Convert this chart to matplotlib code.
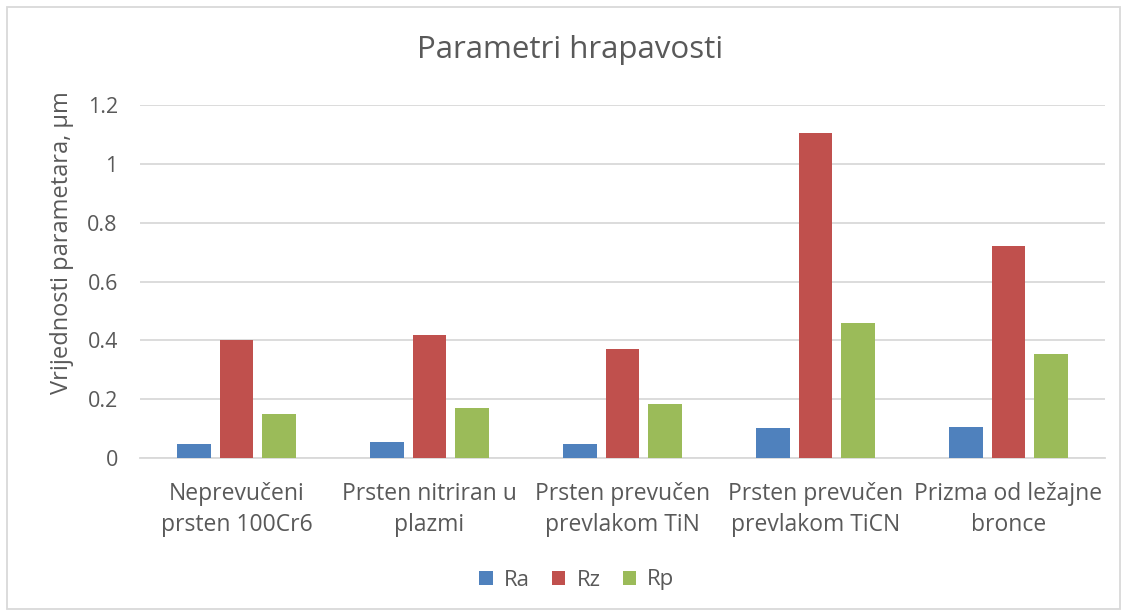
import numpy as np
import matplotlib.pyplot as plt
from matplotlib.patches import Rectangle

plt.rcParams['font.family'] = ['Open Sans', 'DejaVu Sans']

kategorije = ["Neprevučeni\nprsten 100Cr6", "Prsten nitriran u\nplazmi",
              "Prsten prevučen\nprevlakom TiN", "Prsten prevučen\nprevlakom TiCN",
              "Prizma od ležajne\nbronce"]
Ra = [0.049, 0.054, 0.048, 0.103, 0.105]
Rz = [0.400, 0.418, 0.370, 1.104, 0.722]
Rp = [0.149, 0.170, 0.184, 0.460, 0.354]

serije = ["Ra", "Rz", "Rp"]
boje = ["#4f81bd", "#c0504d", "#9bbb59"]
siva = "#595959"

fig = plt.figure(figsize=(11.27, 6.16), dpi=100)
ax = fig.add_axes([140/1127, 1-458/616, 965/1127, 353/616])

x = np.arange(len(kategorije))
w = 0.176
korak = 0.222
for i, (vals, c) in enumerate(zip([Ra, Rz, Rp], boje)):
    ax.bar(x + (i-1)*korak, vals, w, color=c, label=serije[i], zorder=3)

ax.set_xlim(-0.5, 4.5)
ax.set_ylim(0, 1.2)
ax.set_yticks(np.arange(0, 1.21, 0.2))
ax.set_yticklabels(["0", "0.2", "0.4", "0.6", "0.8", "1", "1.2"])
ax.set_xticks(x)
ax.set_xticklabels(kategorije, fontsize=16.5, color=siva, linespacing=1.4)
ax.tick_params(axis='y', labelsize=15.5, colors=siva, length=0, pad=16)
ax.tick_params(axis='x', length=0, pad=17)
ax.grid(axis='y', color="#d9d9d9", linewidth=1.3, zorder=0)
for s in ["top", "right", "left"]:
    ax.spines[s].set_visible(False)
ax.spines["bottom"].set_color("#d9d9d9")
ax.spines["bottom"].set_linewidth(1.3)

ax.set_ylabel("Vrijednosti parametara, µm", fontsize=17, color=siva)
ax.yaxis.set_label_coords(-66/965, (458-243)/353)
fig.text(570/1127, 1-50/616, "Parametri hrapavosti", fontsize=22.5, color=siva,
         ha='center', va='center')

fig.legend(loc='center', bbox_to_anchor=(577/1127, 1-580/616), ncol=3, frameon=False,
           fontsize=16, labelcolor=siva, handlelength=0.6, handleheight=0.6,
           columnspacing=1.0, handletextpad=0.5)

fig.patches.append(Rectangle((7/1127, 7/616), 1113/1127, 602/616, transform=fig.transFigure,
                             fill=False, edgecolor="#d9d9d9", linewidth=1.3))

fig.savefig("out.png", dpi=100)
